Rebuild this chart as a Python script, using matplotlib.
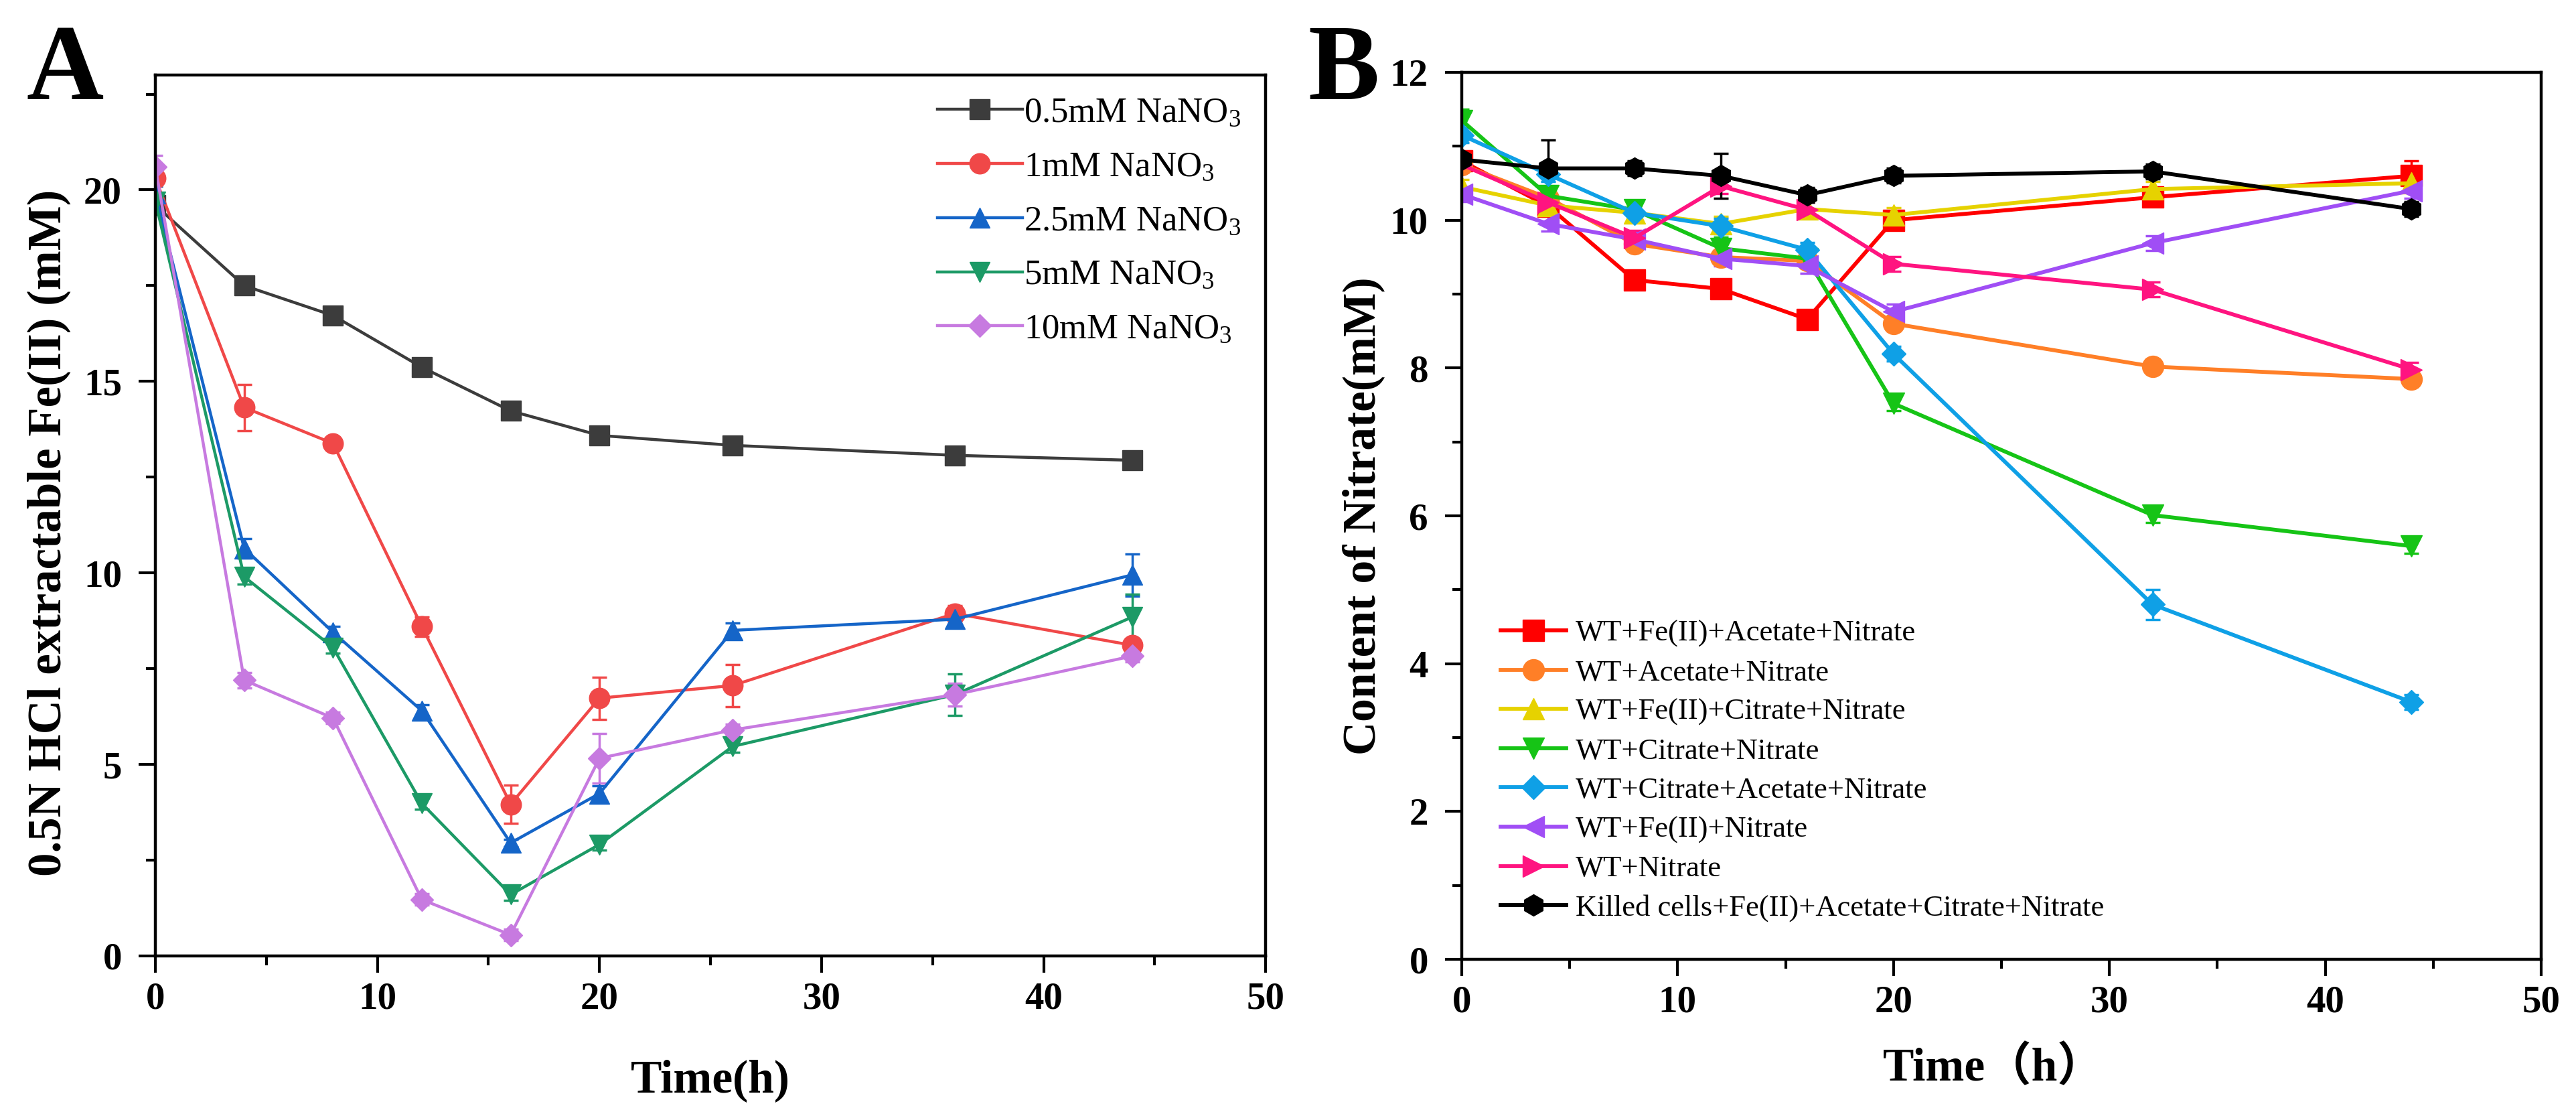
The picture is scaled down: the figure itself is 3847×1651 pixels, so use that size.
import matplotlib
matplotlib.use("Agg")
import matplotlib.pyplot as plt
from matplotlib.ticker import MultipleLocator

plt.rcParams['font.family'] = ['Liberation Serif', 'Noto Sans CJK SC', 'DejaVu Sans']
plt.rcParams['mathtext.fontset'] = 'custom'
plt.rcParams['mathtext.rm'] = 'Liberation Serif'
plt.rcParams['mathtext.it'] = 'Liberation Serif:italic'
plt.rcParams['mathtext.bf'] = 'Liberation Serif:bold'

# ---------------- Panel A data ----------------
time_a = [0, 4, 8, 12, 16, 20, 26, 36, 44]
labels_a = ['0.5mM NaNO$_3$', '1mM NaNO$_3$', '2.5mM NaNO$_3$', '5mM NaNO$_3$', '10mM NaNO$_3$']
fe_05 = [19.6, 17.5, 16.72, 15.37, 14.23, 13.59, 13.33, 13.07, 12.94]
fe_1 = [20.3, 14.32, 13.38, 8.6, 3.96, 6.73, 7.06, 8.94, 8.11]
fe_25 = [19.9, 10.64, 8.45, 6.4, 2.95, 4.24, 8.5, 8.79, 9.95]
fe_5 = [19.7, 9.9, 8.05, 3.98, 1.6, 2.91, 5.47, 6.82, 8.85]
fe_10 = [20.6, 7.2, 6.21, 1.47, 0.55, 5.16, 5.9, 6.82, 7.83]
err_05 = [0.15, 0.15, 0.15, 0.12, 0.12, 0.12, 0.12, 0.12, 0.12]
err_1 = [0.2, 0.6, 0.15, 0.25, 0.5, 0.55, 0.55, 0.2, 0.1]
err_25 = [0.2, 0.25, 0.15, 0.15, 0.1, 0.2, 0.2, 0.15, 0.55]
err_5 = [0.2, 0.2, 0.15, 0.15, 0.15, 0.15, 0.15, 0.55, 0.6]
err_10 = [0.3, 0.2, 0.15, 0.15, 0.15, 0.65, 0.15, 0.3, 0.15]
colors_a = ['#3c3c3c', '#f04848', '#1565c8', '#1c9a66', '#c77ae0']
markers_a = ['s', 'o', '^', 'v', 'D']

# ---------------- Panel B data ----------------
time_b = [0, 4, 8, 12, 16, 20, 32, 44]
labels_b = ['WT+Fe(II)+Acetate+Nitrate', 'WT+Acetate+Nitrate', 'WT+Fe(II)+Citrate+Nitrate',
            'WT+Citrate+Nitrate', 'WT+Citrate+Acetate+Nitrate', 'WT+Fe(II)+Nitrate',
            'WT+Nitrate', 'Killed cells+Fe(II)+Acetate+Citrate+Nitrate']
n_fe_ac = [10.8, 10.19, 9.19, 9.07, 8.66, 10.0, 10.31, 10.6]
n_ac = [10.75, 10.3, 9.68, 9.5, 9.45, 8.6, 8.02, 7.85]
n_fe_ci = [10.45, 10.2, 10.1, 9.95, 10.15, 10.07, 10.42, 10.5]
n_ci = [11.35, 10.33, 10.14, 9.62, 9.48, 7.52, 6.01, 5.59]
n_ci_ac = [11.15, 10.62, 10.1, 9.92, 9.6, 8.19, 4.8, 3.48]
n_fe = [10.35, 9.95, 9.74, 9.48, 9.38, 8.76, 9.69, 10.4]
n_wt = [10.75, 10.24, 9.76, 10.46, 10.14, 9.41, 9.06, 7.98]
n_killed = [10.82, 10.7, 10.7, 10.6, 10.34, 10.6, 10.66, 10.15]
e_fe_ac = [0.1, 0.1, 0.1, 0.1, 0.1, 0.1, 0.1, 0.2]
e_ac = [0.1, 0.1, 0.1, 0.1, 0.1, 0.1, 0.1, 0.1]
e_fe_ci = [0.1, 0.1, 0.1, 0.1, 0.1, 0.1, 0.1, 0.1]
e_ci = [0.15, 0.1, 0.1, 0.15, 0.1, 0.1, 0.1, 0.1]
e_ci_ac = [0.1, 0.1, 0.1, 0.1, 0.1, 0.1, 0.2, 0.1]
e_fe = [0.1, 0.1, 0.1, 0.1, 0.1, 0.1, 0.1, 0.1]
e_wt = [0.1, 0.1, 0.1, 0.1, 0.1, 0.1, 0.1, 0.1]
e_killed = [0.1, 0.38, 0.1, 0.3, 0.1, 0.1, 0.1, 0.1]
colors_b = ['#ff0000', '#ff7f27', '#e6d200', '#16c416', '#0fa0e6', '#a04ef5', '#ff1480', '#000000']
markers_b = ['s', 'o', '^', 'v', 'D', '<', '>', 'h']

fig = plt.figure(figsize=(38.48, 16.51), dpi=100)
axA = fig.add_axes([0.0603, 0.1357, 0.4309, 0.7965])
axB = fig.add_axes([0.5673, 0.1326, 0.4189, 0.802])

def style_axis(ax):
    for s in ax.spines.values():
        s.set_linewidth(3.2)
    ax.tick_params(which='major', direction='out', length=18, width=3, labelsize=41)
    ax.tick_params(which='minor', direction='out', length=10, width=3)
    ax.tick_params(axis='x', which='major', pad=10)
    ax.tick_params(axis='y', which='major', pad=18)
    for lab in ax.get_xticklabels() + ax.get_yticklabels():
        lab.set_fontweight('bold')

series_a = [fe_05, fe_1, fe_25, fe_5, fe_10]
errs_a = [err_05, err_1, err_25, err_5, err_10]
handles_a = []
for y, e, c, m, lab in zip(series_a, errs_a, colors_a, markers_a, labels_a):
    ms = 17 if m == 'D' else 22
    cont = axA.errorbar(time_a, y, yerr=e, color=c, marker=m, markersize=ms, linewidth=3.2,
                        elinewidth=2.5, capsize=8, capthick=2.5, label=lab)
    handles_a.append(cont[0])
axA.set_xlim(0, 50)
axA.set_ylim(0, 23)
axA.xaxis.set_major_locator(MultipleLocator(10))
axA.xaxis.set_minor_locator(MultipleLocator(5))
axA.yaxis.set_major_locator(MultipleLocator(5))
axA.yaxis.set_minor_locator(MultipleLocator(2.5))
style_axis(axA)
axA.set_xlabel('Time(h)', fontsize=50, fontweight='bold')
axA.set_ylabel('0.5N HCl extractable Fe(II) (mM)', fontsize=51, fontweight='bold')
axA.xaxis.set_label_coords(0.5, -0.1544)
axA.xaxis.label.set_va('baseline')
axA.yaxis.set_label_coords(-0.076, 0.48)
axA.legend(handles=handles_a, labels=labels_a, loc='upper right', bbox_to_anchor=(1.0, 1.003),
           frameon=False, fontsize=38, handlelength=2.4, handletextpad=0.05,
           labelspacing=0.62, borderpad=0.2)

series_b = [n_fe_ac, n_ac, n_fe_ci, n_ci, n_ci_ac, n_fe, n_wt, n_killed]
errs_b = [e_fe_ac, e_ac, e_fe_ci, e_ci, e_ci_ac, e_fe, e_wt, e_killed]
handles_b = []
for y, e, c, m, lab in zip(series_b, errs_b, colors_b, markers_b, labels_b):
    ms = 18 if m == 'D' else 23
    cont = axB.errorbar(time_b, y, yerr=e, color=c, marker=m, markersize=ms, linewidth=4.2,
                        elinewidth=2.5, capsize=8, capthick=2.5, label=lab)
    handles_b.append(cont[0])
axB.set_xlim(0, 50)
axB.set_ylim(0, 12)
axB.xaxis.set_major_locator(MultipleLocator(10))
axB.xaxis.set_minor_locator(MultipleLocator(5))
axB.yaxis.set_major_locator(MultipleLocator(2))
axB.yaxis.set_minor_locator(MultipleLocator(1))
style_axis(axB)
axB.set_xlabel('Time（h）', fontsize=50, fontweight='bold')
axB.set_ylabel('Content of Nitrate(mM)', fontsize=50, fontweight='bold')
axB.xaxis.set_label_coords(0.4926, -0.1367)
axB.xaxis.label.set_va('baseline')
axB.yaxis.set_label_coords(-0.0713, 0.50)
axB.legend(handles=handles_b, labels=labels_b, loc='upper left', bbox_to_anchor=(0.017, 0.406),
           frameon=False, fontsize=32, handlelength=2.2, handletextpad=0.3,
           labelspacing=0.41, borderpad=0.2)

fig.text(0.0252, 0.9104, 'A', fontsize=115, fontweight='bold', ha='center', va='baseline')
fig.text(0.5216, 0.9104, 'B', fontsize=115, fontweight='bold', ha='center', va='baseline')

fig.savefig('out.png', dpi=100)
